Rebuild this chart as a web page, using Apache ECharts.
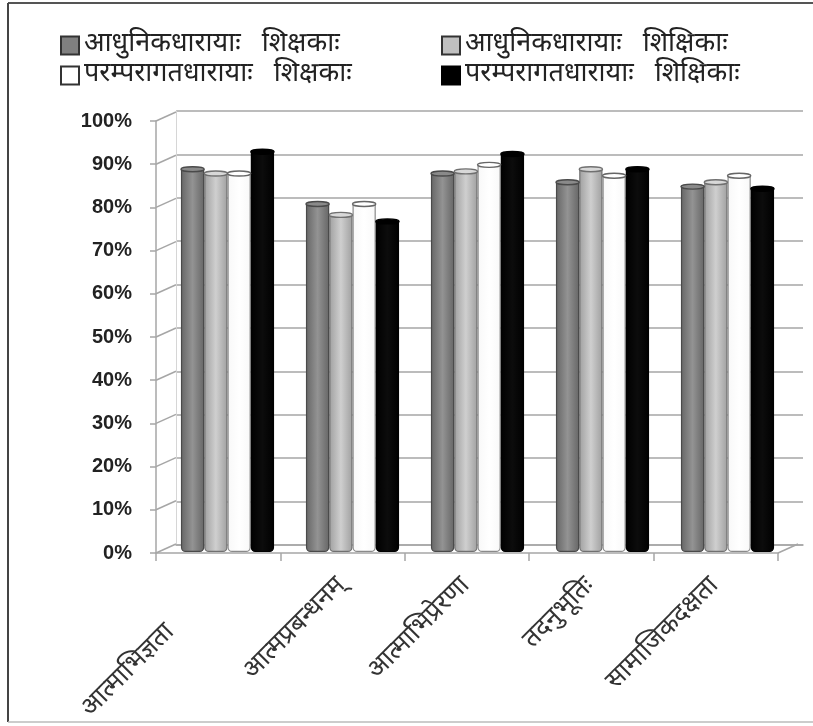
<!DOCTYPE html>
<html><head><meta charset="utf-8">
<style>html,body{margin:0;padding:0;background:#fff}#c{width:813px;height:726px;filter:blur(0.6px)}</style>
<script src="https://cdn.jsdelivr.net/npm/echarts@6/dist/echarts.min.js"></script>
</head><body><div id="c"></div>
<script>
const categories = ['आत्माभिज्ञता','आत्मप्रबन्धनम्','आत्माभिप्रेरणा','तदनुभूतिः','सामाजिकदक्षता'];
const seriesNames = ['आधुनिकधारायाः   शिक्षकाः','आधुनिकधारायाः   शिक्षिकाः','परम्परागतधारायाः   शिक्षकाः','परम्परागतधारायाः   शिक्षिकाः'];
const modernMale = [88,80,87,85,84];
const modernFemale = [87,77.5,87.5,88,85];
const tradMale = [87,80,89,86.5,86.5];
const tradFemale = [92,76,91.5,88,83.5];
const allValues = [modernMale,modernFemale,tradMale,tradFemale];
const yTicks = [0,10,20,30,40,50,60,70,80,90,100];

const FONT = '"Noto Sans Devanagari","Lohit Devanagari","FreeSerif","Noto Serif Devanagari","Liberation Serif","Noto Sans",serif';
const fills = [
  {e:'#666666',m:'#939393',b:'#4a4a4a',cap:'#8a8a8a',leg:'#808080'},
  {e:'#a0a0a0',m:'#cfcfcf',b:'#707070',cap:'#d8d8d8',leg:'#c0c0c0'},
  {e:'#f8f8f8',m:'#ffffff',b:'#8a8a8a',cap:'#ffffff',leg:'#ffffff'},
  {e:'#000000',m:'#0c0c0c',b:'#000000',cap:'#000000',leg:'#000000'}
];
const legendPos = [[55,27],[436,27],[55,57],[436,57]];
const chart = echarts.init(document.getElementById('c'),null,{renderer:'canvas'});
const DX=20, DY=-9, GAP=0.255;

function barSeries(i){
  const f=fills[i];
  return {name:seriesNames[i],type:'bar',xAxisIndex:2,yAxisIndex:2,data:allValues[i],
    barGap:0,barCategoryGap:(GAP*100)+'%',z:5,
    itemStyle:{borderColor:f.b,borderWidth:1.2,borderRadius:[0,0,4,4],
      color:{type:'linear',x:0,y:0,x2:1,y2:0,colorStops:[{offset:0,color:f.e},{offset:0.5,color:f.m},{offset:1,color:f.e}]}},
    emphasis:{disabled:true},animation:false};
}
function capSeries(i){
  const f=fills[i];
  return {type:'custom',xAxisIndex:2,yAxisIndex:2,z:6,silent:true,animation:false,
    data:allValues[i].map((v,k)=>[k,v]),
    renderItem(p,api){
      const c=api.coord([api.value(0),api.value(1)]);
      const w=api.size([1,0])[0]*(1-GAP)/4;
      const cx=c[0]+(i-1.5)*w;
      return {type:'ellipse',shape:{cx:cx,cy:c[1],rx:w/2,ry:2.5},
        style:{fill:f.cap,stroke:i==2?'#666':f.b,lineWidth:1.4}};
    }};
}
const diagonals={type:'custom',xAxisIndex:1,yAxisIndex:1,z:2,silent:true,animation:false,
  data:yTicks.map(v=>[0,v]),
  renderItem(p,api){
    const c=api.coord([0,api.value(1)]);
    const x=c[0]-api.size([1,0])[0]/2;
    return {type:'line',shape:{x1:x,y1:c[1],x2:x+DX,y2:c[1]+DY},style:{stroke:'#a6a6a6',lineWidth:1.5}};
  }};
const floorEdge={type:'custom',xAxisIndex:1,yAxisIndex:1,z:2,silent:true,animation:false,
  data:[[categories.length-1,0]],
  renderItem(p,api){
    const c=api.coord([api.value(0),0]);
    const x=c[0]+api.size([1,0])[0]/2;
    return {type:'line',shape:{x1:x,y1:c[1],x2:x+DX,y2:c[1]+DY},style:{stroke:'#a6a6a6',lineWidth:1.5}};
  }};

chart.setOption({
  animation:false,backgroundColor:'#fff',
  legend:seriesNames.map((n,i)=>({data:[n],left:legendPos[i][0],top:legendPos[i][1],orient:'horizontal',
    itemWidth:18,itemHeight:18,itemGap:4,icon:'rect',selectedMode:false,
    itemStyle:{borderColor:i==3?'#000':'#333',borderWidth:2,color:fills[i].leg},
    textStyle:{fontFamily:FONT,fontSize:27,lineHeight:26,color:'#222',padding:[0,0,0,0]}})),
  grid:[
    {left:176,top:111,width:627,height:434},
    {left:156,top:121,width:622,height:432},
    {left:165,top:117,width:625,height:435}
  ],
  xAxis:[
    {gridIndex:0,type:'category',data:categories,axisLine:{show:true,lineStyle:{color:'#a6a6a6',width:1.5}},axisTick:{show:false},axisLabel:{show:false},splitLine:{show:false}},
    {gridIndex:1,type:'category',data:categories,
      axisLine:{show:true,lineStyle:{color:'#a6a6a6',width:1.5}},
      axisTick:{show:true,length:8,alignWithLabel:false,lineStyle:{color:'#a6a6a6',width:1.5}},
      axisLabel:{show:true,rotate:45,margin:30,interval:0,fontFamily:FONT,fontSize:26,color:'#333',
        formatter:(v,i)=> i===0 ? '{first|'+v+'}' : v,
        rich:{first:{fontFamily:FONT,fontSize:26,color:'#333',padding:[0,66,0,0]}}}},
    {gridIndex:2,type:'category',data:categories,show:false}
  ],
  yAxis:[
    {gridIndex:0,type:'value',min:0,max:100,interval:10,axisLine:{show:true,lineStyle:{color:'#d6d6d6',width:1}},axisTick:{show:false},axisLabel:{show:false},
      splitLine:{show:true,lineStyle:{color:'#a6a6a6',width:1.5}}},
    {gridIndex:1,type:'value',min:0,max:100,interval:10,
      axisLine:{show:true,lineStyle:{color:'#a6a6a6',width:1.5}},
      axisTick:{show:true,length:6,lineStyle:{color:'#a6a6a6',width:1.5}},
      axisLabel:{show:true,margin:24,formatter:'{value}%',fontFamily:'"Liberation Sans",Arial,sans-serif',fontWeight:'bold',fontSize:20,color:'#222'},
      splitLine:{show:false}},
    {gridIndex:2,type:'value',min:0,max:100,interval:10,show:false,splitLine:{show:false}}
  ],
  graphic:[
    {type:'line',shape:{x1:8,y1:3,x2:813,y2:3},style:{stroke:'#555',lineWidth:2}},
    {type:'line',shape:{x1:8,y1:3,x2:8,y2:722},style:{stroke:'#444',lineWidth:2}},
    {type:'line',shape:{x1:8,y1:722,x2:813,y2:722},style:{stroke:'#bbb',lineWidth:1.5}}
  ],
  series:[diagonals,floorEdge].concat([0,1,2,3].map(barSeries),[0,1,2,3].map(capSeries))
});
</script></body></html>
